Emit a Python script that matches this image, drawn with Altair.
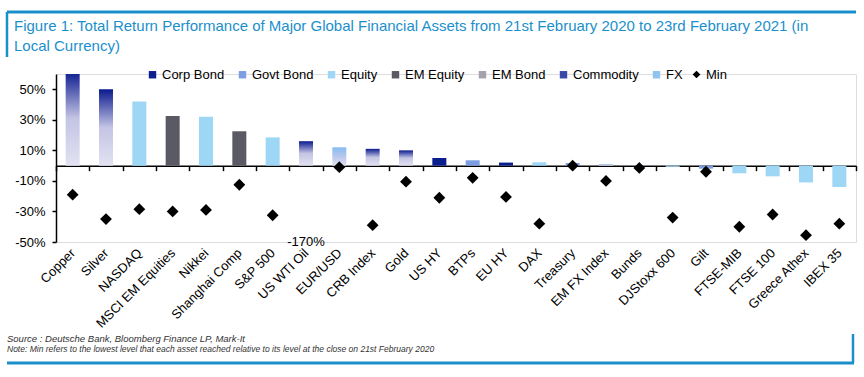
import altair as alt
import pandas as pd

assets = ["Copper", "Silver", "NASDAQ", "MSCI EM Equities", "Nikkei", "Shanghai Comp",
          "S&P 500", "US WTI Oil", "EUR/USD", "CRB Index", "Gold", "US HY", "BTPs",
          "EU HY", "DAX", "Treasury", "EM FX Index", "Bunds", "DJStoxx 600", "Gilt",
          "FTSE-MIB", "FTSE 100", "Greece Athex", "IBEX 35"]
groups = ["Commodity", "Commodity", "Equity", "EM Equity", "Equity", "EM Equity",
          "Equity", "Commodity", "FX", "Commodity", "Commodity", "Corp Bond", "Govt Bond",
          "Corp Bond", "Equity", "Govt Bond", "FX", "Govt Bond", "Equity", "Govt Bond",
          "Equity", "Equity", "Equity", "Equity"]
returns = [62, 50, 42, 32.5, 32, 22.5, 18.5, 16, 12, 11, 10, 5, 3.5,
           2, 2.2, 1.8, 1, 0.3, -0.8, -2, -5, -7, -11, -14]
mins = [-19, -35, -28.5, -30, -29, -12.5, -32.5, -170, -1, -39, -10.5, -21, -8,
        -20.5, -38, 0, -10, -1.5, -34, -4, -40, -32, -45.5, -38]

legend_order = ["Corp Bond", "Govt Bond", "Equity", "EM Equity", "EM Bond", "Commodity", "FX"]
legend_colors = ["#0b1f8f", "#7d9de3", "#9dd7f5", "#5a5a64", "#a3a3ab", "#3a48a8", "#8fc3f0"]

y_min, y_max = -50, 60
y_ticks = [-50, -30, -10, 10, 30, 50]

title_lines = ["Figure 1: Total Return Performance of Major Global Financial Assets from 21st February 2020 to 23rd February 2021 (in",
               "Local Currency)"]
source_text = "Source : Deutsche Bank, Bloomberg Finance LP, Mark-It"
note_text = "Note: Min refers to the lowest level that each asset reached relative to its level at the close on 21st February 2020"

df = pd.DataFrame({"asset": assets, "group": groups, "ret": returns, "min": mins})
df["series"] = "Min"

W, H = 800, 168
FONT = "Liberation Sans"
BLUE = "#1b8fcc"

x_enc = alt.X("asset:N", sort=assets,
              scale=alt.Scale(paddingInner=0, paddingOuter=0),
              axis=alt.Axis(title=None, orient="bottom",
                            offset=-H * (0 - y_min) / (y_max - y_min),
                            domainColor="black", domainWidth=1.5,
                            tickColor="black", tickSize=5, tickWidth=1.5,
                            tickBand="extent", labelAngle=-45, labelAlign="right",
                            labelBaseline="middle", labelPadding=80, labelFontSize=13,
                            labelColor="black", labelFont=FONT, labelOverlap=False))
y_scale = alt.Scale(domain=[y_min, y_max], nice=False, zero=False)
y_axis = alt.Axis(title=None, values=y_ticks, labelExpr="datum.value + '%'",
                  domainColor="black", domainWidth=1.5, tickColor="black",
                  tickSize=4, tickWidth=1.5, labelPadding=7, labelFontSize=13,
                  labelColor="black", labelFont=FONT, grid=False,
                  labelOverlap=False, labelFlush=False)


def yq(field):
    return alt.Y(f"{field}:Q", scale=y_scale, axis=y_axis)


base = alt.Chart(df)

solid = base.transform_filter(
    "datum.group != 'Commodity' && datum.group != 'FX'"
).mark_bar(size=14, clip=True).encode(
    x=x_enc, y=yq("ret"),
    color=alt.Color("group:N", scale=alt.Scale(domain=legend_order, range=legend_colors),
                    legend=alt.Legend(title=None, orient="none", legendX=90, legendY=-6,
                                      direction="horizontal", columns=7,
                                      symbolType="square", symbolSize=55,
                                      symbolStrokeWidth=0,
                                      labelFontSize=13, labelFont=FONT, labelColor="black",
                                      columnPadding=11, labelOffset=3)))


def grad(top, mid, bottom):
    return alt.Gradient(gradient="linear", x1=0, x2=0, y1=0, y2=1,
                        stops=[alt.GradientStop(color=top, offset=0),
                               alt.GradientStop(color=mid, offset=0.5),
                               alt.GradientStop(color=bottom, offset=1)])


commodity = base.transform_filter("datum.group == 'Commodity'").mark_bar(
    size=14, clip=True, color=grad("#0a1a8e", "#c4c4e4", "#e2e2f2")
).encode(x=x_enc, y=yq("ret"))

fx = base.transform_filter("datum.group == 'FX'").mark_bar(
    size=14, clip=True, color=grad("#86bdf2", "#b9c6ec", "#e2e2f2")
).encode(x=x_enc, y=yq("ret"))

points = base.transform_filter(f"datum.min >= {y_min}").mark_point(
    shape="diamond", filled=True, color="black", size=140, opacity=1
).encode(
    x=x_enc,
    y=yq("min"),
    shape=alt.Shape("series:N", scale=alt.Scale(domain=["Min"], range=["diamond"]),
                    legend=alt.Legend(title=None, orient="none", legendX=634, legendY=-6,
                                      symbolFillColor="black", symbolStrokeColor="black",
                                      symbolSize=60, labelFontSize=13, labelFont=FONT,
                                      labelColor="black", labelOffset=3)),
)

off_chart = base.transform_filter(f"datum.min < {y_min}").transform_calculate(
    lbl="datum.min + '%'", ypos=str(y_min)
).mark_text(fontSize=13, font=FONT, color="black", baseline="middle").encode(
    x=x_enc, y=yq("ypos"), text="lbl:N")

texts = pd.DataFrame({"t": title_lines + [source_text, note_text], "k": [0, 1, 2, 3]})
tc = alt.Chart(texts)
title1 = tc.transform_filter("datum.k == 0").mark_text(
    align="left", baseline="middle", fontSize=15, font=FONT, color=BLUE
).encode(x=alt.value(-42), y=alt.value(-48), text="t:N")
title2 = tc.transform_filter("datum.k == 1").mark_text(
    align="left", baseline="middle", fontSize=15, font=FONT, color=BLUE
).encode(x=alt.value(-42), y=alt.value(-28), text="t:N")
src = tc.transform_filter("datum.k == 2").mark_text(
    align="left", baseline="middle", fontSize=9.5, fontStyle="italic", font=FONT,
    color="#333333").encode(x=alt.value(-49), y=alt.value(265), text="t:N")
nte = tc.transform_filter("datum.k == 3").mark_text(
    align="left", baseline="middle", fontSize=8.5, fontStyle="italic", font=FONT,
    color="#333333").encode(x=alt.value(-49), y=alt.value(275), text="t:N")

frame_df = pd.DataFrame({"k": [0]})
fr = alt.Chart(frame_df)
top_line = fr.mark_rule(color=BLUE, strokeWidth=3).encode(
    x=alt.value(-49), x2=alt.value(800), y=alt.value(-62))
left_line = fr.mark_rule(color=BLUE, strokeWidth=2.5).encode(
    x=alt.value(-49), y=alt.value(-62), y2=alt.value(-17))
bottom_line = fr.mark_rule(color=BLUE, strokeWidth=3).encode(
    x=alt.value(-49), x2=alt.value(798), y=alt.value(289))
right_line = fr.mark_rule(color=BLUE, strokeWidth=2.5).encode(
    x=alt.value(797), y=alt.value(260), y2=alt.value(289))

chart = alt.layer(
    solid, commodity, fx, points, off_chart, title1, title2, src, nte,
    top_line, left_line, bottom_line, right_line
).properties(
    width=W, height=H,
    autosize=alt.AutoSizeParams(type="none"),
    padding={"left": 56, "top": 74, "right": 8, "bottom": 135},
).configure_view(stroke=None).configure(background="white")

chart.save("out.html", embed_options={"renderer": "svg", "actions": False})
